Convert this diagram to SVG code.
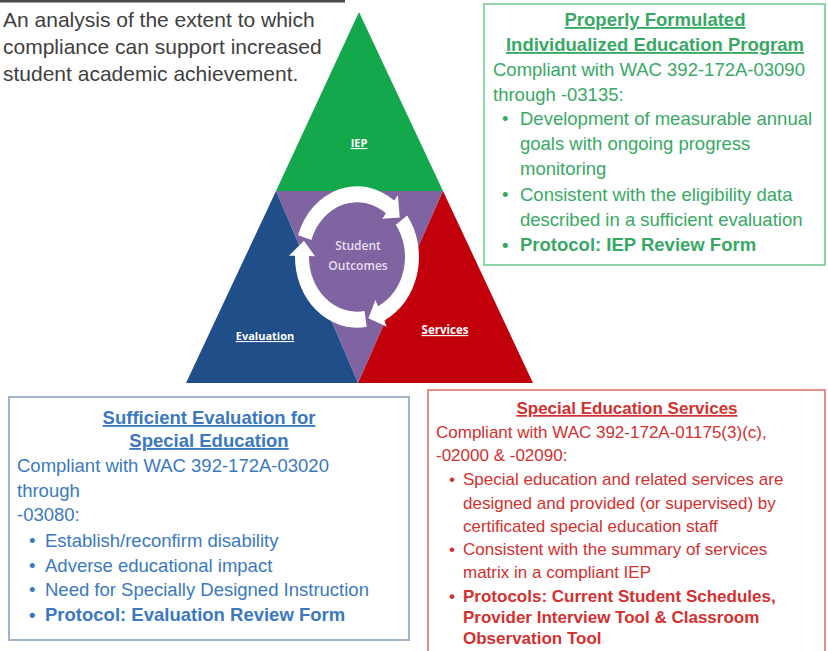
<svg xmlns="http://www.w3.org/2000/svg" width="828" height="651" viewBox="0 0 828 651">
<style>
  text { font-family: "Liberation Sans", Arial, sans-serif; }
  .intro { font-size: 21px; fill: #404040; }
  .g { fill: #38a965; font-size: 18.5px; }
  .b { fill: #3a79c0; font-size: 18.5px; }
  .r { fill: #d3302f; font-size: 17px; }
  .title { font-weight: bold; text-decoration: underline; text-anchor: middle; }
  .bold { font-weight: bold; }
  .tri { font-family: "Open Sans", "Noto Sans", sans-serif; font-weight: bold; fill: #ffffff; text-anchor: middle; text-decoration: underline; font-size: 11px; }
  .so { font-family: "Open Sans", "Noto Sans", sans-serif; font-weight: 600; fill: #e6def0; text-anchor: middle; font-size: 12px; }
  .arrow { fill: #ffffff; }
</style>
<rect width="828" height="651" fill="#ffffff"/>
<rect x="0" y="0" width="345" height="2.5" fill="#4a4a4a"/>
<g id="intro">
  <text class="intro" x="3" y="27">An analysis of the extent to which</text>
  <text class="intro" x="3" y="54">compliance can support increased</text>
  <text class="intro" x="3" y="81">student academic achievement.</text>
</g>
<g id="triangle">
  <polygon id="iep" points="359,12 276,191 443,191" fill="#14a84c"/>
  <polygon id="center" points="276,191 443,191 358,383" fill="#8064a2"/>
  <polygon id="evaluation" points="276,191 186,383 358,383" fill="#1f4e88"/>
  <polygon id="services" points="443,191 358,383 533,383" fill="#c2000b"/>
  <text class="tri" x="359" y="147">IEP</text>
  <text class="tri" x="265" y="340">Evaluation</text>
  <text class="tri" x="445" y="334" style="font-size:11.5px">Services</text>
</g>
<g id="cycle-arrows" transform="translate(0 257) scale(1 1.14) translate(0 -258)">
  <path class="arrow" d="M 298.03 238.84 A 62 62 0 0 1 394.31 208.49 L 397.92 203.70 L 399.74 223.39 L 382.28 224.46 L 385.89 219.67 A 48 48 0 0 0 311.35 243.17 Z"/>
  <path class="arrow" d="M 407.16 221.56 A 62 62 0 0 1 384.18 313.73 L 386.81 319.12 L 368.43 311.80 L 375.41 295.75 L 378.04 301.14 A 48 48 0 0 0 395.83 229.79 Z"/>
  <path class="arrow" d="M 366.70 319.24 A 62 62 0 0 1 295.01 256.91 L 289.01 256.81 L 303.88 243.77 L 315.01 257.27 L 309.01 257.16 A 48 48 0 0 0 364.51 305.41 Z"/>
</g>
<g id="student-outcomes">
  <text class="so" x="358" y="250">Student</text>
  <text class="so" x="358" y="270">Outcomes</text>
</g>
<g id="iep-box">
  <rect x="484" y="4" width="341" height="261" fill="none" stroke="#8fd3a8" stroke-width="2"/>
  <text class="g title" x="655" y="26">Properly Formulated</text>
  <text class="g title" x="655" y="51">Individualized Education Program</text>
  <text class="g" x="493" y="76">Compliant with WAC 392-172A-03090</text>
  <text class="g" x="493" y="101">through -03135:</text>
  <text class="g" x="502" y="125">•</text>
  <text class="g" x="520" y="125">Development of measurable annual</text>
  <text class="g" x="520" y="150">goals with ongoing progress</text>
  <text class="g" x="520" y="175">monitoring</text>
  <text class="g" x="502" y="201">•</text>
  <text class="g" x="520" y="201">Consistent with the eligibility data</text>
  <text class="g" x="520" y="226">described in a sufficient evaluation</text>
  <text class="g bold" x="502" y="251">•</text>
  <text class="g bold" x="520" y="251">Protocol: IEP Review Form</text>
</g>
<g id="evaluation-box">
  <rect x="9" y="397" width="400" height="243" fill="none" stroke="#a3b3c9" stroke-width="2"/>
  <text class="b title" x="209" y="424">Sufficient Evaluation for</text>
  <text class="b title" x="209" y="447">Special Education</text>
  <text class="b" x="17" y="472">Compliant with WAC 392-172A-03020</text>
  <text class="b" x="17" y="497">through</text>
  <text class="b" x="17" y="521">-03080:</text>
  <text class="b" x="29" y="547">•</text>
  <text class="b" x="45" y="547">Establish/reconfirm disability</text>
  <text class="b" x="29" y="572">•</text>
  <text class="b" x="45" y="572">Adverse educational impact</text>
  <text class="b" x="29" y="596">•</text>
  <text class="b" x="45" y="596">Need for Specially Designed Instruction</text>
  <text class="b bold" x="29" y="621">•</text>
  <text class="b bold" x="45" y="621">Protocol: Evaluation Review Form</text>
</g>
<g id="services-box">
  <rect x="428" y="390" width="397" height="275" fill="none" stroke="#e88c8c" stroke-width="2"/>
  <text class="r title" x="627" y="414">Special Education Services</text>
  <text class="r" x="436" y="438">Compliant with WAC 392-172A-01175(3)(c),</text>
  <text class="r" x="436" y="461">-02000 &amp; -02090:</text>
  <text class="r" x="449" y="485">•</text>
  <text class="r" x="463" y="485">Special education and related services are</text>
  <text class="r" x="463" y="509">designed and provided (or supervised) by</text>
  <text class="r" x="463" y="532">certificated special education staff</text>
  <text class="r" x="449" y="555">•</text>
  <text class="r" x="463" y="555">Consistent with the summary of services</text>
  <text class="r" x="463" y="578">matrix in a compliant IEP</text>
  <text class="r bold" x="449" y="602">•</text>
  <text class="r bold" x="463" y="602">Protocols: Current Student Schedules,</text>
  <text class="r bold" x="463" y="623">Provider Interview Tool &amp; Classroom</text>
  <text class="r bold" x="463" y="644">Observation Tool</text>
</g>
</svg>
